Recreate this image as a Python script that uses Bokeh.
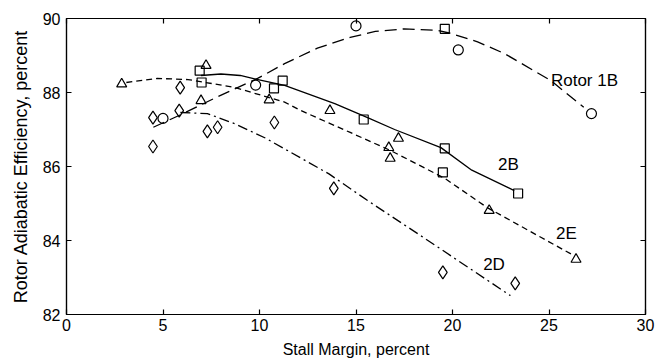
from bokeh.plotting import figure
from bokeh.models import LinearAxis, FixedTicker, Range1d, Label
from bokeh.embed import file_html
from bokeh.resources import INLINE

FONT = "Liberation Sans"

# ---- data ----
circ_x = [5.0, 9.8, 15.0, 20.3, 27.2]
circ_y = [87.3, 88.2, 89.8, 89.15, 87.43]

sq_x = [6.9, 7.0, 10.75, 11.2, 15.4, 19.6, 19.5, 23.4, 19.6]
sq_y = [88.59, 88.27, 88.11, 88.32, 87.27, 86.49, 85.84, 85.27, 89.72]

tri_x = [2.86, 7.23, 6.97, 10.5, 13.65, 17.2, 16.7, 16.77, 21.9, 26.4]
tri_y = [88.23, 88.73, 87.78, 87.8, 87.51, 86.76, 86.51, 86.22, 84.81, 83.49]

dia_x = [4.48, 4.48, 5.89, 5.84, 7.3, 7.83, 10.77, 13.85, 19.5, 23.25]
dia_y = [87.32, 86.54, 88.13, 87.51, 86.95, 87.06, 87.19, 85.41, 83.14, 82.84]

c1b_x = [4.5, 6.0, 7.65, 9.9, 11.3, 13.0, 14.7, 16.0, 17.5, 19.2, 19.9, 21.3, 22.7, 25.1, 26.8]
c1b_y = [87.06, 87.42, 87.84, 88.38, 88.78, 89.2, 89.49, 89.65, 89.72, 89.68, 89.6, 89.37, 89.05, 88.32, 87.6]

c2b_x = [6.97, 8.0, 9.0, 9.8, 11.3, 13.9, 15.6, 17.0, 19.4, 21.0, 23.2]
c2b_y = [88.46, 88.5, 88.46, 88.36, 88.19, 87.7, 87.32, 87.0, 86.51, 85.9, 85.35]

c2e_x = [3.1, 4.7, 6.3, 8.7, 11.3, 12.15, 14.7, 16.8, 19.6, 21.8, 24.6, 26.3]
c2e_y = [88.27, 88.38, 88.35, 88.14, 87.74, 87.51, 86.92, 86.43, 85.68, 84.89, 84.08, 83.59]

c2d_x = [5.9, 7.3, 8.7, 10.3, 13.6, 15.6, 18.5, 23.0]
c2d_y = [87.46, 87.43, 87.16, 86.77, 85.8, 85.08, 84.08, 82.51]

x_ticks = [0, 5, 10, 15, 20, 25, 30]
y_ticks = [82, 84, 86, 88, 90]

labels_text = ["Rotor 1B", "2B", "2E", "2D"]
labels_x = [25.1, 22.9, 25.9, 22.15]
labels_y = [88.32, 86.05, 84.19, 83.35]
labels_align = ["left", "center", "center", "center"]

# ---- figure ----
p = figure(frame_width=579, frame_height=296, output_backend="svg", toolbar_location=None,
           x_range=Range1d(0, 30), y_range=Range1d(82, 90),
           min_border_left=66, min_border_right=13, min_border_top=18, min_border_bottom=48)
p.grid.visible = False
p.outline_line_color = "black"
p.outline_line_width = 1.2
p.background_fill_color = "white"
p.border_fill_color = "white"

for ax in (p.xaxis[0], p.yaxis[0]):
    ax.major_tick_in = 5
    ax.major_tick_out = 0
    ax.minor_tick_line_color = None
    ax.axis_line_width = 1.2
    ax.major_tick_line_width = 1.2
    ax.major_label_text_font = FONT
    ax.major_label_text_font_size = "16px"
    ax.major_label_text_color = "black"
    ax.axis_label_text_font = FONT
    ax.axis_label_text_font_style = "normal"
    ax.axis_label_text_color = "black"

p.xaxis.ticker = FixedTicker(ticks=x_ticks)
p.yaxis.ticker = FixedTicker(ticks=y_ticks)
p.xaxis.axis_label = "Stall Margin, percent"
p.yaxis.axis_label = "Rotor Adiabatic Efficiency, percent"
p.xaxis.axis_label_text_font_size = "16px"
p.yaxis.axis_label_text_font_size = "18px"
p.xaxis.major_label_standoff = 4
p.yaxis.major_label_standoff = 6
p.xaxis.axis_label_standoff = 7
p.yaxis.axis_label_standoff = 9

# mirrored tick marks on top and right, without labels
top = LinearAxis(ticker=FixedTicker(ticks=x_ticks), major_tick_in=5, major_tick_out=0,
                 minor_tick_line_color=None, major_label_text_font_size="1px",
                 major_label_overrides={t: "" for t in x_ticks}, major_label_standoff=0,
                 axis_line_width=1.2, major_tick_line_width=1.2)
right = LinearAxis(ticker=FixedTicker(ticks=y_ticks), major_tick_in=5, major_tick_out=0,
                   minor_tick_line_color=None, major_label_text_font_size="1px",
                   major_label_overrides={t: "" for t in y_ticks}, major_label_standoff=0,
                   axis_line_width=1.2, major_tick_line_width=1.2)
p.add_layout(top, "above")
p.add_layout(right, "right")

# curves
p.line(c1b_x, c1b_y, line_color="black", line_width=1.3, line_dash="12 6")
p.line(c2b_x, c2b_y, line_color="black", line_width=1.3)
p.line(c2e_x, c2e_y, line_color="black", line_width=1.3, line_dash="6 4")
p.line(c2d_x, c2d_y, line_color="black", line_width=1.3, line_dash="10 4 2 4")

# markers
p.scatter(circ_x, circ_y, marker="circle", size=10, fill_color=None, line_color="black", line_width=1.2)
p.scatter(sq_x, sq_y, marker="square", size=9, fill_color=None, line_color="black", line_width=1.2)
p.scatter(tri_x, tri_y, marker="triangle", size=10, fill_color=None, line_color="black", line_width=1.2)
p.scatter(dia_x, dia_y, marker="diamond", size=13, fill_color=None, line_color="black", line_width=1.2)

for t, x, y, a in zip(labels_text, labels_x, labels_y, labels_align):
    p.add_layout(Label(x=x, y=y, text=t, text_align=a, text_baseline="middle",
                       text_font=FONT, text_font_size="17px", text_color="black"))

open("out.html", "w").write(file_html(p, INLINE))
